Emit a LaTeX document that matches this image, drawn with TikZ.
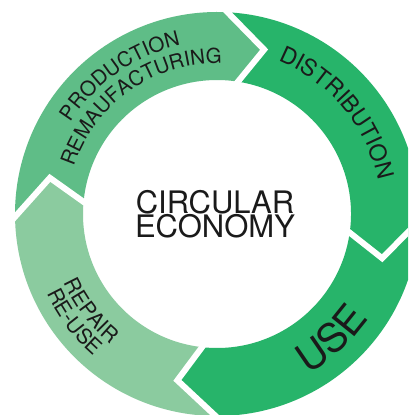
\documentclass[tikz,border=0pt]{standalone}
\usepackage{fontspec}
\setmainfont{TeX Gyre Heros}
\usetikzlibrary{decorations.text,calc}
\definecolor{prodgreen}{HTML}{5FBD87}
\definecolor{distgreen}{HTML}{27B46A}
\definecolor{repgreen}{HTML}{8BCB9F}
\definecolor{txt}{HTML}{1A1A1A}
\tikzset{
  gapline/.style={draw=white, line width=6pt, line join=miter, line cap=butt},
  arctext/.style={decorate, decoration={text along path, text align=center, text color=txt, text={#1}}}
}
\begin{document}
\begin{tikzpicture}[x=1pt,y=1pt]
\useasboundingbox (0,0) rectangle (408,415);
\fill[white] (0,0) rectangle (408,415);
\clip (0,0) rectangle (408,415);
\coordinate (c) at (217,201);
% junction points
\coordinate (tipA) at ($(c)+(74:171)$);
\coordinate (inA) at ($(c)+(81:134)$);
\coordinate (outA) at ($(c)+(87:202)$);
\coordinate (tipB) at ($(c)+(-15:171)$);
\coordinate (inB) at ($(c)+(-8:134)$);
\coordinate (outB) at ($(c)+(-2:202)$);
\coordinate (tipC) at ($(c)+(-103.4:171)$);
\coordinate (inC) at ($(c)+(-96.4:134)$);
\coordinate (outC) at ($(c)+(-90.4:202)$);
\coordinate (tipD) at ($(c)+(167.8:171)$);
\coordinate (inD) at ($(c)+(174.8:134)$);
\coordinate (outD) at ($(c)+(180.8:202)$);
% segments
\fill[prodgreen] (outD) arc[start angle=180.8, end angle=87, radius=202] -- (tipA) -- (inA)
  arc[start angle=81, end angle=174.8, radius=134] -- (tipD) -- cycle;
\fill[distgreen] (outA) arc[start angle=87, end angle=-2, radius=202] -- (tipB) -- (inB)
  arc[start angle=-8, end angle=81, radius=134] -- (tipA) -- cycle;
\fill[distgreen] (outB) arc[start angle=-2, end angle=-90.4, radius=202] -- (tipC) -- (inC)
  arc[start angle=-96.4, end angle=-8, radius=134] -- (tipB) -- cycle;
\fill[repgreen] (outC) arc[start angle=269.6, end angle=180.8, radius=202] -- (tipD) -- (inD)
  arc[start angle=174.8, end angle=263.6, radius=134] -- (tipC) -- cycle;
% gaps
\foreach \j in {A,B,C,D}{
  \draw[gapline] ($(tip\j)!1.3!(out\j)$) -- (tip\j) -- ($(tip\j)!1.3!(in\j)$);
}
% curved labels
\path[arctext={|\fontsize{20.5}{20.5}\selectfont|PRODUCTION}]
  ($(c)+(175:172.6)$) arc[start angle=175, end angle=75, radius=172.6];
\path[arctext={|\fontsize{20.5}{20.5}\selectfont|REMAUFACTURING}]
  ($(c)+(180:150.6)$) arc[start angle=180, end angle=70, radius=150.6];
\path[arctext={|\fontsize{23}{23}\selectfont|DISTRIBUTION}]
  ($(c)+(95:164.7)$) arc[start angle=95, end angle=-15, radius=164.7];
\path[arctext={|\fontsize{40}{40}\selectfont|USE}]
  ($(c)+(-87.4:184)$) arc[start angle=-87.4, end angle=-7.4, radius=184];
\path[arctext={|\fontsize{21}{21}\selectfont|REPAIR}]
  ($(c)+(177.5:167.6)$) arc[start angle=177.5, end angle=257.5, radius=167.6];
\path[arctext={|\fontsize{21}{21}\selectfont|RE-USE}]
  ($(c)+(177:187.6)$) arc[start angle=177, end angle=257, radius=187.6];
% centre
\node[font=\fontsize{31}{24}\selectfont, align=center, text=txt, inner sep=0pt] (title) at (215,201) {CIRCULAR\\ECONOMY};
\end{tikzpicture}
\end{document}
